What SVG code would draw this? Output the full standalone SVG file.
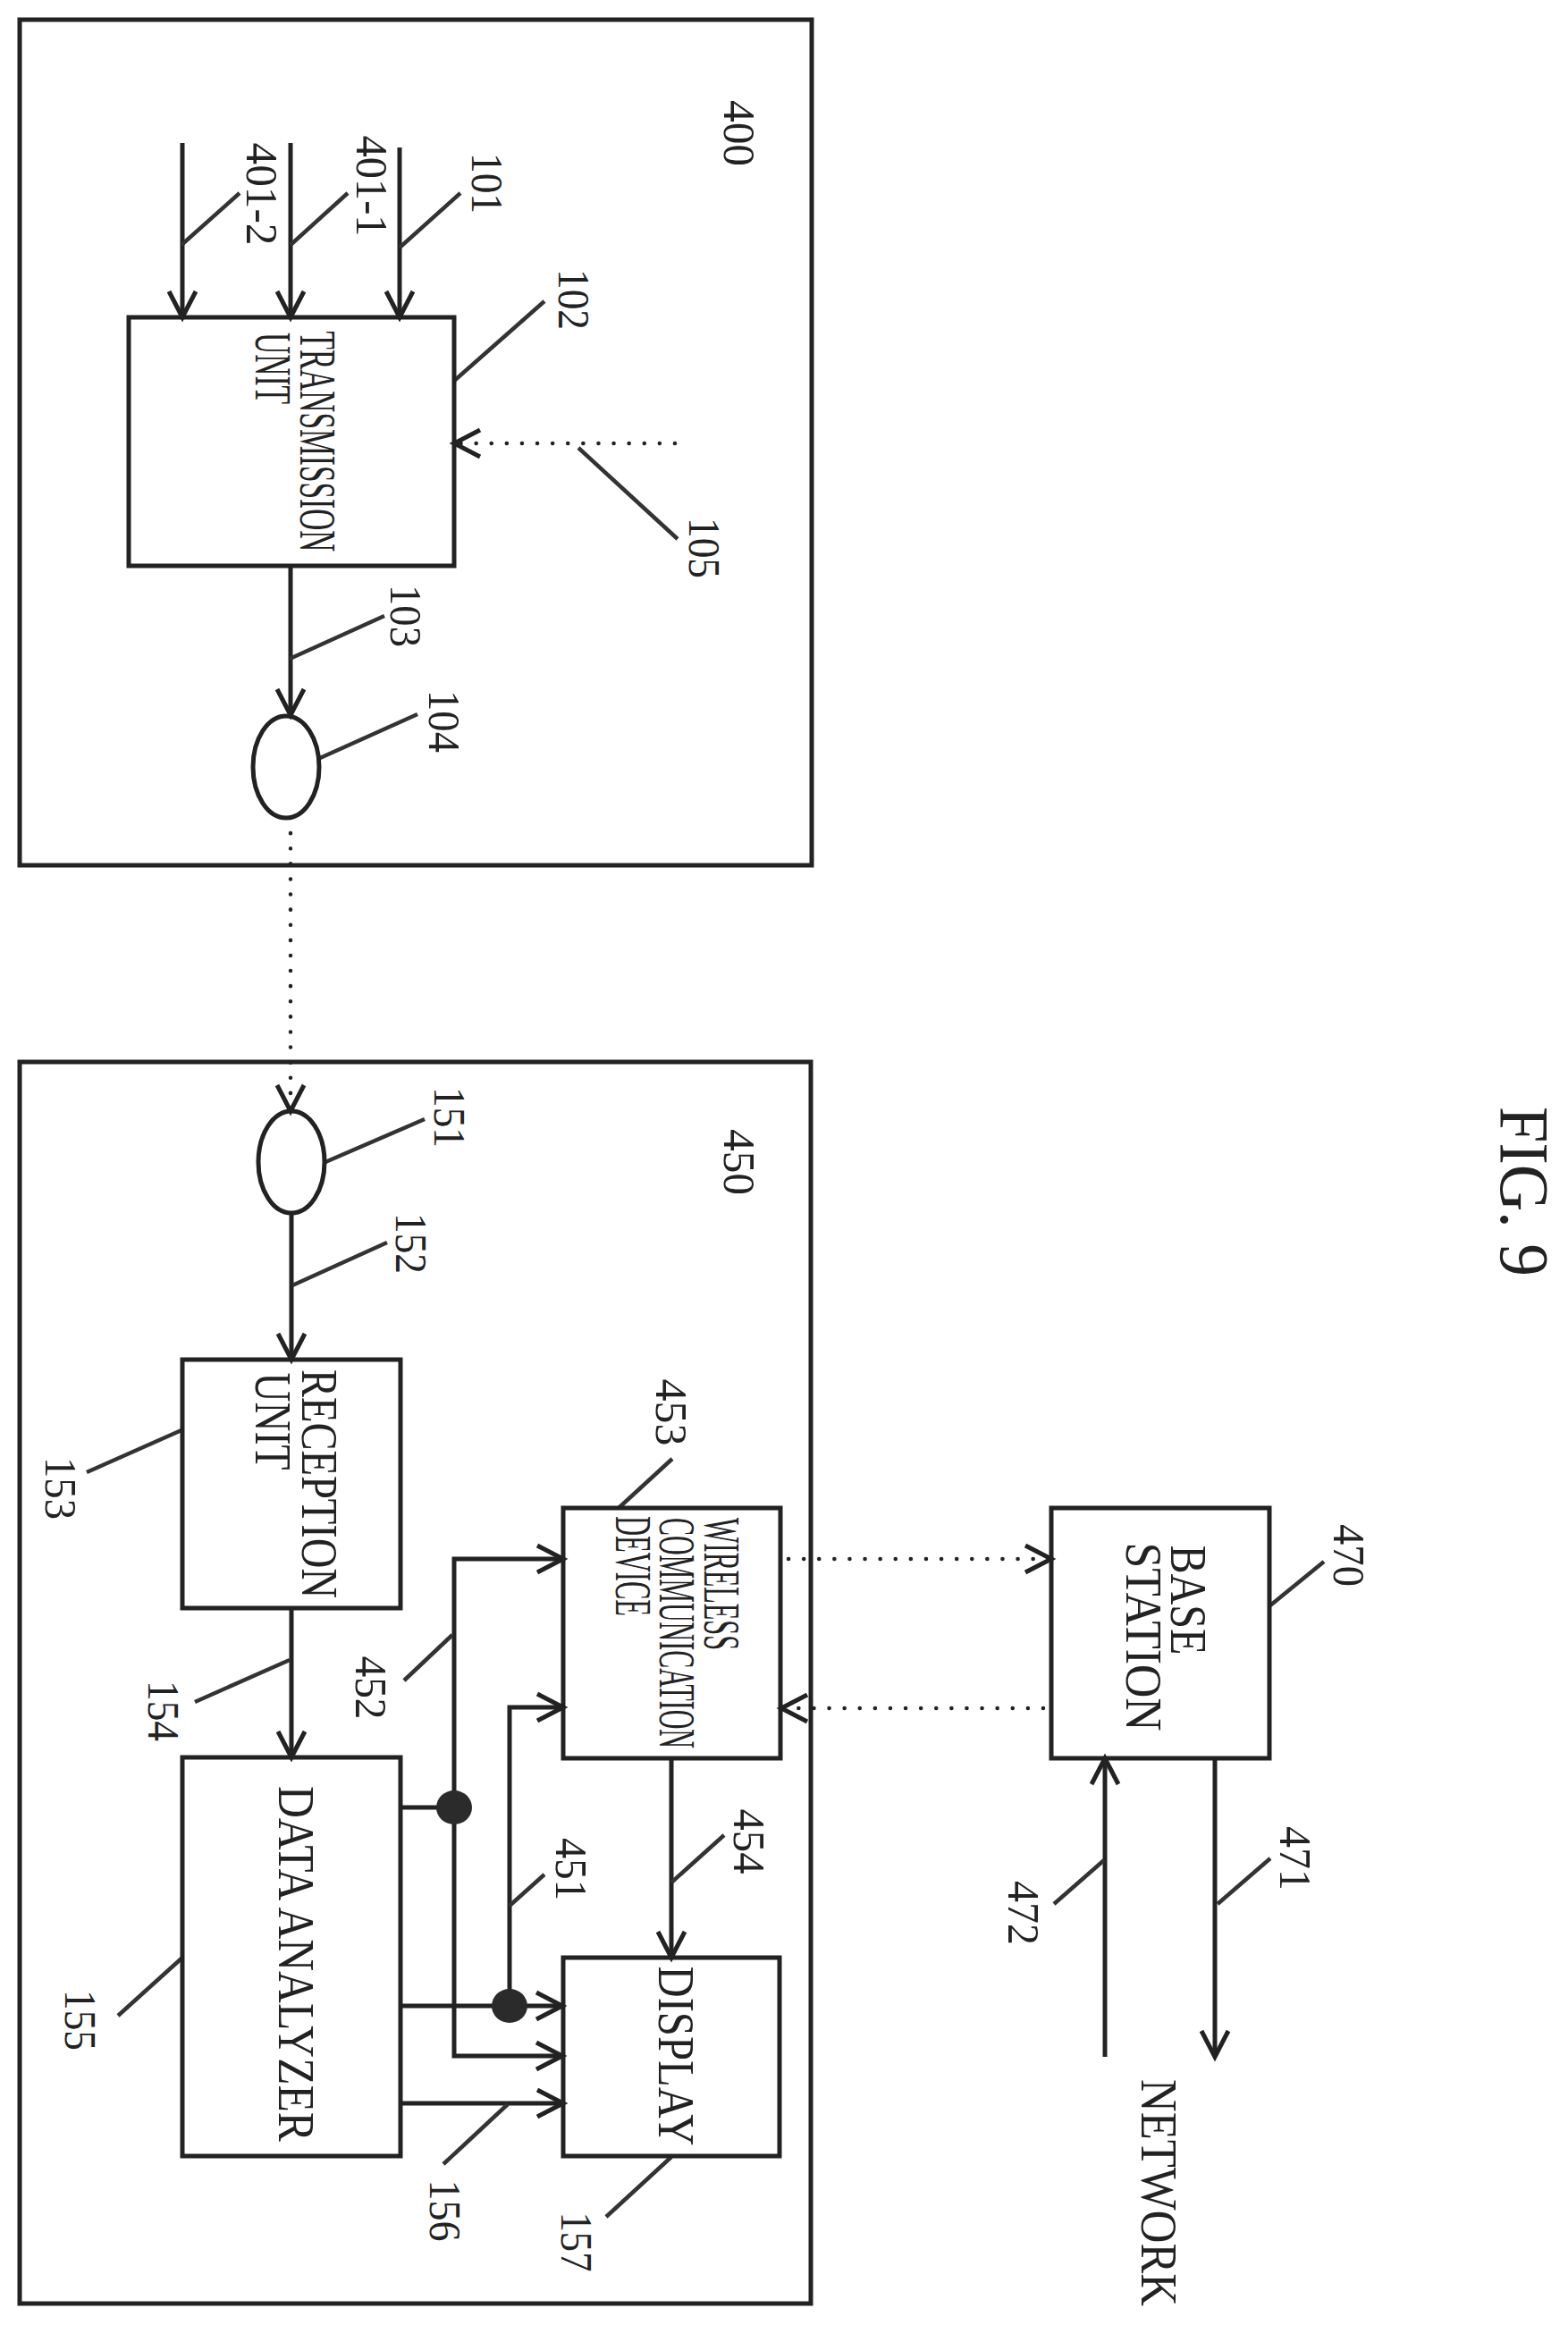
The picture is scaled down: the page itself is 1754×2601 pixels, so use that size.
<svg xmlns="http://www.w3.org/2000/svg" width="1754" height="2601" viewBox="0 0 1754 2601">
<style>
.box{fill:none;stroke:#222;stroke-width:5}
.frame{fill:none;stroke:#222;stroke-width:5}
.line{fill:none;stroke:#222;stroke-width:5}
.lead{fill:none;stroke:#333;stroke-width:4.5}
.dot{fill:none;stroke:#222;stroke-width:4.5;stroke-dasharray:0.1 17;stroke-linecap:round}
.arr{marker-end:url(#v)}
.jn{fill:#2b2b2b;stroke:none}
text{font-family:"Liberation Serif","Times New Roman",serif;fill:#222;text-anchor:middle}
.n{font-size:50px}
.l{font-size:58px}
.s{font-size:56px}
.f{font-size:78px}
</style>
<defs>
<marker id="v" markerUnits="userSpaceOnUse" markerWidth="40" markerHeight="40" refX="33" refY="20" orient="auto">
<path d="M4 5L33 20L4 35" fill="none" stroke="#222" stroke-width="5"/>
</marker>
</defs>
<rect width="1754" height="2601" fill="#fff"/>
<g id="device-400"><rect class="frame" x="22" y="22" width="886" height="946"/>
<text class="n" transform="translate(810,149) rotate(90)" textLength="74" lengthAdjust="spacingAndGlyphs">400</text></g>
<g id="device-450"><rect class="frame" x="22" y="1188" width="885" height="1389"/>
<text class="n" transform="translate(810,1300) rotate(90)" textLength="74" lengthAdjust="spacingAndGlyphs">450</text></g>
<g id="connectors">
<path class="line arr" d="M204 160V355"/>
<path class="line arr" d="M325 160V355"/>
<path class="line arr" d="M447 165V355"/>
<path class="dot arr" d="M755 496H508"/>
<path class="line arr" d="M325 633V800"/>
<path class="dot arr" d="M325 915V1243"/>
<path class="line arr" d="M326 1357V1521"/>
<path class="line arr" d="M326 1799V1966"/>
<path class="line arr" d="M448 2244H629"/>
<path class="line" d="M448 2022H508"/>
<path class="line arr" d="M508 2022V1744H630"/>
<path class="line arr" d="M508 2022V2300H629"/>
<path class="line arr" d="M570 2244V1910H630"/>
<path class="line arr" d="M448 2353H630"/>
<path class="line arr" d="M751 1967V2190"/>
<path class="dot arr" d="M882 1744H1176"/>
<path class="dot arr" d="M1167 1911H874"/>
<path class="line arr" d="M1359 1967V2301"/>
<path class="line arr" d="M1236 2301V1967"/>
<path class="lead" d="M447 277L515 216M325 274L389 216M203 274L268 216M508 426L609 337M647 501L758 603M324 737L430 689M358 848L467 799"/>
<path class="lead" d="M364 1300L475 1252M327 1438L433 1390M203 1600L97 1647M324 1857L218 1904M692 1687L752 1632M506 1829L452 1880M751 2106L810 2053M570 2132L609 2097M204 2190L132 2255M568 2354L496 2421M751 2413L678 2480M1421 1796L1481 1747M1362 2130L1421 2079M1235 2081L1179 2130"/>
</g>
<g id="junction-1"><ellipse class="jn" cx="508" cy="2022" rx="20" ry="19"/></g>
<g id="junction-2"><ellipse class="jn" cx="570" cy="2244" rx="20" ry="19"/></g>
<g id="transmission-unit"><rect class="box" x="144" y="355" width="364" height="278"/>
<text class="l" transform="translate(336,494) rotate(90)" textLength="247" lengthAdjust="spacingAndGlyphs">TRANSMISSION</text>
<text class="l" transform="translate(286,412) rotate(90)" textLength="80" lengthAdjust="spacingAndGlyphs">UNIT</text></g>
<g id="antenna-104"><ellipse class="box" cx="320" cy="858" rx="37" ry="57"/></g>
<g id="antenna-151"><ellipse class="box" cx="326" cy="1300" rx="37" ry="57"/></g>
<g id="reception-unit"><rect class="box" x="204" y="1521" width="244" height="278"/>
<text class="l" transform="translate(338,1660) rotate(90)" textLength="256" lengthAdjust="spacingAndGlyphs">RECEPTION</text>
<text class="l" transform="translate(286,1590) rotate(90)" textLength="109" lengthAdjust="spacingAndGlyphs">UNIT</text></g>
<g id="data-analyzer"><rect class="box" x="204" y="1966" width="244" height="446"/>
<text class="l" transform="translate(312,2197) rotate(90)" textLength="398" lengthAdjust="spacingAndGlyphs">DATA ANALYZER</text></g>
<g id="wireless-device"><rect class="box" x="630" y="1687" width="243" height="280"/>
<text class="s" transform="translate(788,1772) rotate(90)" textLength="148" lengthAdjust="spacingAndGlyphs">WIRELESS</text>
<text class="s" transform="translate(738,1827) rotate(90)" textLength="258" lengthAdjust="spacingAndGlyphs">COMMUNICATION</text>
<text class="s" transform="translate(689,1752) rotate(90)" textLength="112" lengthAdjust="spacingAndGlyphs">DEVICE</text></g>
<g id="display"><rect class="box" x="630" y="2190" width="242" height="222"/>
<text class="l" transform="translate(737,2300) rotate(90)" textLength="201" lengthAdjust="spacingAndGlyphs">DISPLAY</text></g>
<g id="base-station"><rect class="box" x="1176" y="1687" width="244" height="280"/>
<text class="l" transform="translate(1310,1790) rotate(90)" textLength="123" lengthAdjust="spacingAndGlyphs">BASE</text>
<text class="l" transform="translate(1260,1831) rotate(90)" textLength="211" lengthAdjust="spacingAndGlyphs">STATION</text></g>
<g id="labels">
<text class="n" transform="translate(528,205) rotate(90)" textLength="68" lengthAdjust="spacingAndGlyphs">101</text>
<text class="n" transform="translate(399,208) rotate(90)" textLength="113" lengthAdjust="spacingAndGlyphs">401-1</text>
<text class="n" transform="translate(276,217) rotate(90)" textLength="115" lengthAdjust="spacingAndGlyphs">401-2</text>
<text class="n" transform="translate(625,335) rotate(90)" textLength="68" lengthAdjust="spacingAndGlyphs">102</text>
<text class="n" transform="translate(437,689) rotate(90)" textLength="70" lengthAdjust="spacingAndGlyphs">103</text>
<text class="n" transform="translate(480,807) rotate(90)" textLength="70" lengthAdjust="spacingAndGlyphs">104</text>
<text class="n" transform="translate(771,613) rotate(90)" textLength="68" lengthAdjust="spacingAndGlyphs">105</text>
<text class="n" transform="translate(486,1250) rotate(90)" textLength="68" lengthAdjust="spacingAndGlyphs">151</text>
<text class="n" transform="translate(443,1391) rotate(90)" textLength="68" lengthAdjust="spacingAndGlyphs">152</text>
<text class="n" transform="translate(51,1665) rotate(90)" textLength="70" lengthAdjust="spacingAndGlyphs">153</text>
<text class="n" transform="translate(166,1914) rotate(90)" textLength="68" lengthAdjust="spacingAndGlyphs">154</text>
<text class="n" transform="translate(73,2260) rotate(90)" textLength="68" lengthAdjust="spacingAndGlyphs">155</text>
<text class="n" transform="translate(481,2473) rotate(90)" textLength="69" lengthAdjust="spacingAndGlyphs">156</text>
<text class="n" transform="translate(628,2508) rotate(90)" textLength="67" lengthAdjust="spacingAndGlyphs">157</text>
<text class="n" transform="translate(622,2091) rotate(90)" textLength="70" lengthAdjust="spacingAndGlyphs">451</text>
<text class="n" transform="translate(398,1888) rotate(90)" textLength="71" lengthAdjust="spacingAndGlyphs">452</text>
<text class="n" transform="translate(734,1580) rotate(90)" textLength="75" lengthAdjust="spacingAndGlyphs">453</text>
<text class="n" transform="translate(821,2060) rotate(90)" textLength="73" lengthAdjust="spacingAndGlyphs">454</text>
<text class="n" transform="translate(1492,1740) rotate(90)" textLength="70" lengthAdjust="spacingAndGlyphs">470</text>
<text class="n" transform="translate(1432,2079) rotate(90)" textLength="72" lengthAdjust="spacingAndGlyphs">471</text>
<text class="n" transform="translate(1128,2140) rotate(90)" textLength="72" lengthAdjust="spacingAndGlyphs">472</text>
<text class="l" transform="translate(1277,2453) rotate(90)" textLength="254" lengthAdjust="spacingAndGlyphs">NETWORK</text>
<text class="f" transform="translate(1679,1333) rotate(90)" textLength="190" lengthAdjust="spacingAndGlyphs">FIG. 9</text>
</g>
</svg>
